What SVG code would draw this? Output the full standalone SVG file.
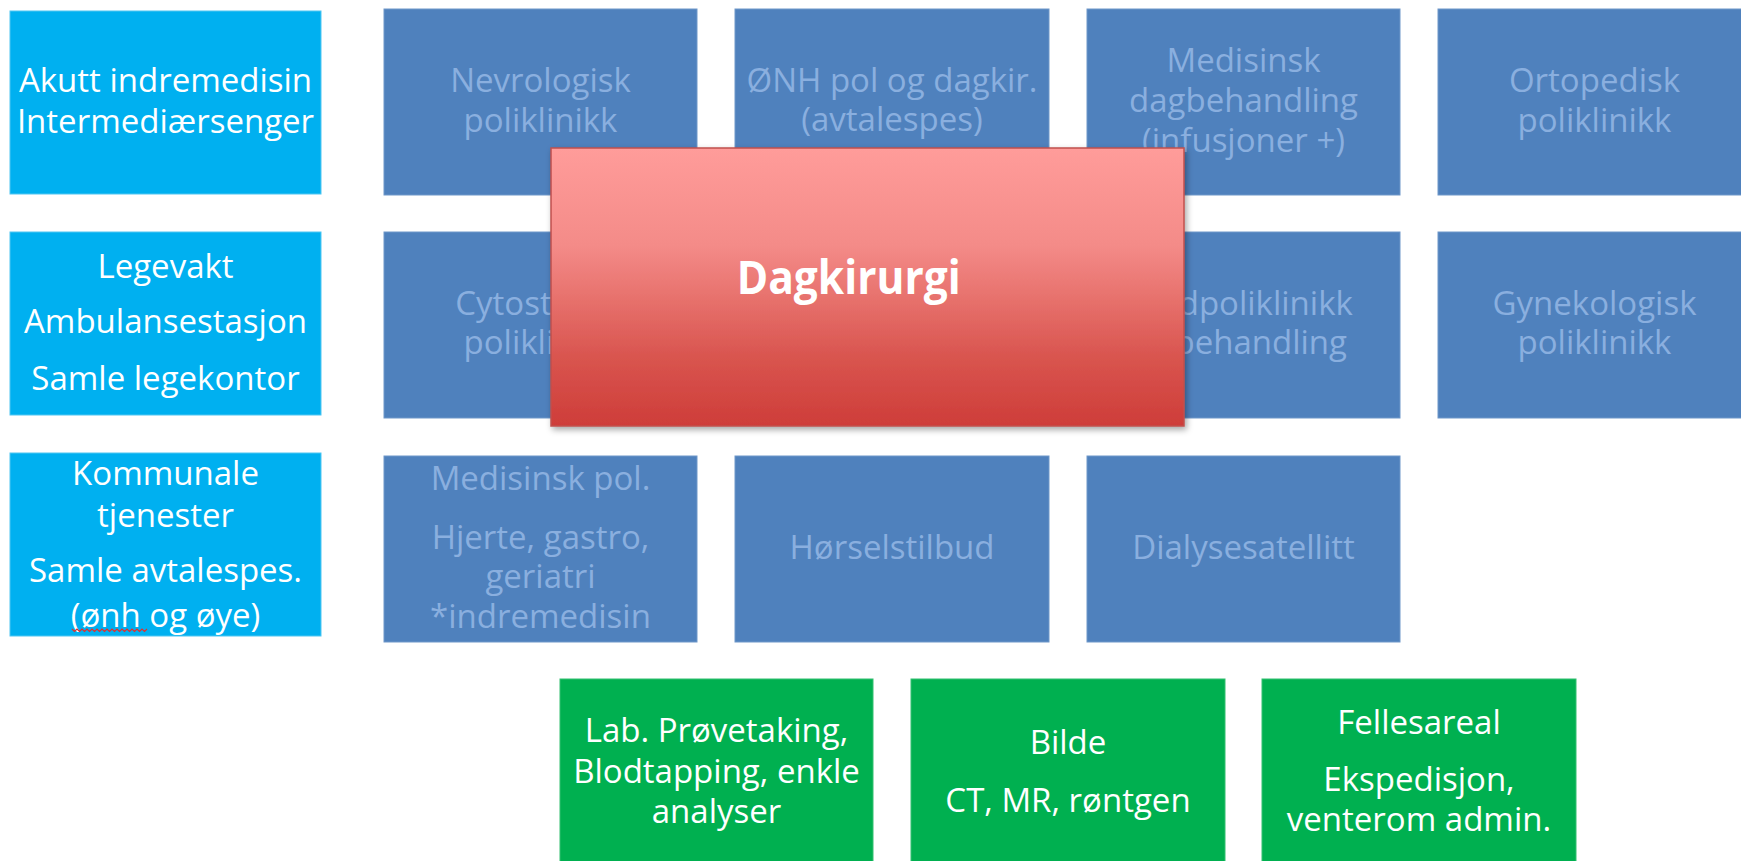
<svg xmlns="http://www.w3.org/2000/svg" width="1741" height="861" viewBox="0 0 1741 861">
  <style>
    .t { font-family: "Open Sans", "Liberation Sans", sans-serif; font-size: 33px; text-anchor: middle; }
    .w { fill: #ffffff; }
    .lb { fill: #8AAFDF; }
    .cyan { fill: #00B0F0; stroke: #4FC6F2; stroke-width: 1; }
    .blue { fill: #4F81BD; stroke: #6F97C9; stroke-width: 1; }
    .green { fill: #00B050; stroke: #33C070; stroke-width: 1; }
  </style>
  <defs>
    <linearGradient id="redGrad" x1="0" y1="0" x2="0" y2="1">
      <stop offset="0" stop-color="#FF9C9A"/>
      <stop offset="0.35" stop-color="#F48B88"/>
      <stop offset="0.75" stop-color="#D9554F"/>
      <stop offset="1" stop-color="#CE3D39"/>
    </linearGradient>
    <filter id="shadow" x="-5%" y="-5%" width="115%" height="120%">
      <feDropShadow dx="2" dy="3" stdDeviation="3" flood-color="#000" flood-opacity="0.35"/>
    </filter>
  </defs>
  <rect x="0" y="0" width="1741" height="861" fill="#ffffff"/>

  <g id="connectors"/>

  <!-- Left column (cyan) -->
  <g id="akutt">
    <rect class="cyan" x="10" y="11" width="311" height="183"/>
    <text class="t w" x="165.5" y="91.7">Akutt indremedisin</text>
    <text class="t w" x="165.5" y="133.3">Intermediærsenger</text>
  </g>
  <g id="legevakt">
    <rect class="cyan" x="10" y="232" width="311" height="183"/>
    <text class="t w" x="165.5" y="277.7">Legevakt</text>
    <text class="t w" x="165.5" y="333.3">Ambulansestasjon</text>
    <text class="t w" x="165.5" y="390">Samle legekontor</text>
  </g>
  <g id="kommunale">
    <rect class="cyan" x="10" y="453" width="311" height="183"/>
    <text class="t w" x="165.5" y="485">Kommunale</text>
    <text class="t w" x="165.5" y="526.7">tjenester</text>
    <text class="t w" x="165.5" y="581.7">Samle avtalespes.</text>
    <text class="t w" x="165.5" y="626.7">(ønh og øye)</text>
    <path d="M72 629 l2.5 2.5 l2.5 -2.5 l2.5 2.5 l2.5 -2.5 l2.5 2.5 l2.5 -2.5 l2.5 2.5 l2.5 -2.5 l2.5 2.5 l2.5 -2.5 l2.5 2.5 l2.5 -2.5 l2.5 2.5 l2.5 -2.5 l2.5 2.5 l2.5 -2.5 l2.5 2.5 l2.5 -2.5 l2.5 2.5 l2.5 -2.5 l2.5 2.5 l2.5 -2.5 l2.5 2.5 l2.5 -2.5 l2.5 2.5 l2.5 -2.5 l2.5 2.5 l2.5 -2.5 l2.5 2.5 l2.5 -2.5" fill="none" stroke="#E0302C" stroke-width="1.2"/>
  </g>

  <!-- Row 1 (blue) -->
  <g id="nevrologisk">
    <rect class="blue" x="384" y="9" width="313" height="186"/>
    <text class="t lb" x="540.5" y="91.7">Nevrologisk</text>
    <text class="t lb" x="540.5" y="131.7">poliklinikk</text>
  </g>
  <g id="onh">
    <rect class="blue" x="735" y="9" width="314" height="186"/>
    <text class="t lb" x="892" y="91.7">ØNH pol og dagkir.</text>
    <text class="t lb" x="892" y="131">(avtalespes)</text>
  </g>
  <g id="medisinsk-dagbehandling">
    <rect class="blue" x="1087" y="9" width="313" height="186"/>
    <text class="t lb" x="1243.5" y="71.7">Medisinsk</text>
    <text class="t lb" x="1243.5" y="111.7">dagbehandling</text>
    <text class="t lb" x="1243.5" y="151.7">(infusjoner +)</text>
  </g>
  <g id="ortopedisk">
    <rect class="blue" x="1438" y="9" width="313" height="186"/>
    <text class="t lb" x="1594.5" y="91.7">Ortopedisk</text>
    <text class="t lb" x="1594.5" y="131.7">poliklinikk</text>
  </g>

  <!-- Row 2 (blue) -->
  <g id="cytostatika">
    <rect class="blue" x="384" y="232" width="313" height="186"/>
    <text class="t lb" x="540.5" y="315">Cytostatika</text>
    <text class="t lb" x="540.5" y="354.3">poliklinikk</text>
  </g>
  <g id="hidden-middle">
    <rect class="blue" x="735" y="232" width="314" height="186"/>
  </g>
  <g id="hudpoliklinikk">
    <rect class="blue" x="1087" y="232" width="313" height="186"/>
    <text class="t lb" x="1243.5" y="315">Hudpoliklinikk</text>
    <text class="t lb" x="1347" y="354.3" style="text-anchor:end">behandling</text>
  </g>
  <g id="gynekologisk">
    <rect class="blue" x="1438" y="232" width="313" height="186"/>
    <text class="t lb" x="1594.5" y="315">Gynekologisk</text>
    <text class="t lb" x="1594.5" y="354.3">poliklinikk</text>
  </g>

  <!-- Row 3 (blue) -->
  <g id="medisinsk-pol">
    <rect class="blue" x="384" y="456" width="313" height="186"/>
    <text class="t lb" x="540.5" y="490">Medisinsk pol.</text>
    <text class="t lb" x="540.5" y="549">Hjerte, gastro,</text>
    <text class="t lb" x="540.5" y="588">geriatri</text>
    <text class="t lb" x="540.5" y="628">*indremedisin</text>
  </g>
  <g id="horselstilbud">
    <rect class="blue" x="735" y="456" width="314" height="186"/>
    <text class="t lb" x="892" y="559.3">Hørselstilbud</text>
  </g>
  <g id="dialysesatellitt">
    <rect class="blue" x="1087" y="456" width="313" height="186"/>
    <text class="t lb" x="1243.5" y="559.3">Dialysesatellitt</text>
  </g>

  <!-- Dagkirurgi (red, on top) -->
  <g id="dagkirurgi">
    <rect x="551" y="148" width="633" height="278" fill="url(#redGrad)" stroke="#C0504D" stroke-width="1.5" filter="url(#shadow)"/>
    <text x="848.7" y="294" font-family="'Open Sans', 'Liberation Sans', sans-serif" font-size="46" font-weight="bold" fill="#ffffff" text-anchor="middle" textLength="224" lengthAdjust="spacingAndGlyphs">Dagkirurgi</text>
  </g>

  <!-- Bottom row (green) -->
  <g id="lab">
    <rect class="green" x="560" y="679" width="313" height="190"/>
    <text class="t w" x="716.5" y="741.7">Lab. Prøvetaking,</text>
    <text class="t w" x="716.5" y="782.7">Blodtapping, enkle</text>
    <text class="t w" x="716.5" y="823.3">analyser</text>
  </g>
  <g id="bilde">
    <rect class="green" x="911" y="679" width="314" height="190"/>
    <text class="t w" x="1068" y="754.3">Bilde</text>
    <text class="t w" x="1068" y="811.7">CT, MR, røntgen</text>
  </g>
  <g id="fellesareal">
    <rect class="green" x="1262" y="679" width="314" height="190"/>
    <text class="t w" x="1419" y="734">Fellesareal</text>
    <text class="t w" x="1419" y="791">Ekspedisjon,</text>
    <text class="t w" x="1419" y="831">venterom admin.</text>
  </g>
</svg>
